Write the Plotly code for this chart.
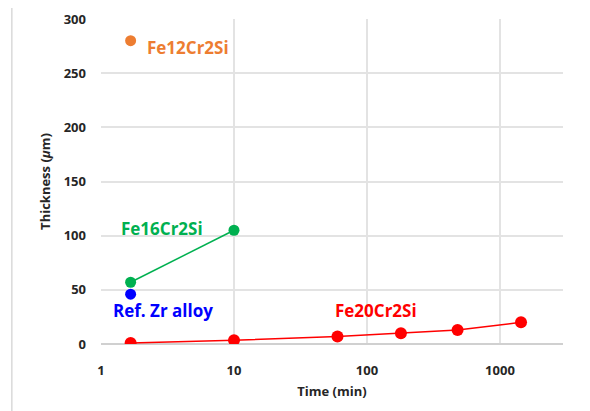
import math
import plotly.graph_objects as go

# Data
t12 = [1.67]
th12 = [280]
t16 = [1.67, 10]
th16 = [57, 105]
tzr = [1.67]
thzr = [46]
t20 = [1.67, 10, 60, 180, 480, 1440]
th20 = [1, 3.5, 7, 10, 13, 20]
x_ticks = [1, 10, 100, 1000]
y_ticks = [0, 50, 100, 150, 200, 250, 300]

ORANGE = "#ED7D31"
GREEN = "#00B050"
BLUE = "#0000FF"
RED = "#FF0000"

FONT = "Open Sans"

fig = go.Figure()
fig.add_trace(go.Scatter(x=t12, y=th12, mode="markers",
                         marker=dict(color=ORANGE, size=11), name="Fe12Cr2Si"))
fig.add_trace(go.Scatter(x=t16, y=th16, mode="lines+markers",
                         line=dict(color=GREEN, width=1.5),
                         marker=dict(color=GREEN, size=11), name="Fe16Cr2Si"))
fig.add_trace(go.Scatter(x=tzr, y=thzr, mode="markers",
                         marker=dict(color=BLUE, size=11), name="Ref. Zr alloy"))
fig.add_trace(go.Scatter(x=t20, y=th20, mode="lines+markers",
                         line=dict(color=RED, width=1.5),
                         marker=dict(color=RED, size=12), name="Fe20Cr2Si"))

labels = [
    ("Fe12Cr2Si", 2.15, 274, ORANGE),
    ("Fe16Cr2Si", 1.36, 107, GREEN),
    ("Ref. Zr alloy", 1.19, 31, BLUE),
    ("Fe20Cr2Si", 56, 31, RED),
]
for txt, x, y, c in labels:
    fig.add_annotation(x=math.log10(x), y=y, text="<b>%s</b>" % txt,
                       showarrow=False, xanchor="left", yanchor="middle",
                       font=dict(family=FONT, size=17, color=c))

fig.update_layout(
    width=590, height=411,
    margin=dict(l=93, r=35, t=11, b=75),
    plot_bgcolor="white", paper_bgcolor="white",
    showlegend=False,
    font=dict(family=FONT, color="#262626"),
    shapes=[dict(type="rect", xref="paper", yref="paper",
                 x0=-0.193, x1=1.2, y0=-0.5, y1=1.049,
                 line=dict(color="#D9D9D9", width=1.5), layer="below")],
)
fig.update_xaxes(type="log", range=[0, 3.474], automargin=False,
                 tickvals=x_ticks, ticktext=["<b>%d</b>" % v for v in x_ticks],
                 showgrid=True, gridcolor="#E3E3E3", gridwidth=1.5,
                 zeroline=False, showline=False, ticks="",
                 tickfont=dict(family=FONT, size=13, color="#262626"),
                 ticklabelstandoff=17,
                 title=dict(text="<b>Time (min)</b>", font=dict(family=FONT, size=13, color="#262626"),
                            standoff=8))
fig.update_yaxes(range=[0, 300], automargin=False,
                 tickvals=y_ticks, ticktext=["<b>%d</b>" % v for v in y_ticks],
                 showgrid=True, gridcolor="#E3E3E3", gridwidth=1.5,
                 zeroline=True, zerolinecolor="#D0D0D0", zerolinewidth=1.5,
                 showline=False, ticks="",
                 tickfont=dict(family=FONT, size=13, color="#262626"),
                 ticklabelstandoff=14,
                 title=dict(text="<b>Thickness (<i>μ</i>m)</b>", font=dict(family=FONT, size=13, color="#262626"),
                            standoff=10))

fig.write_html("out.html")
